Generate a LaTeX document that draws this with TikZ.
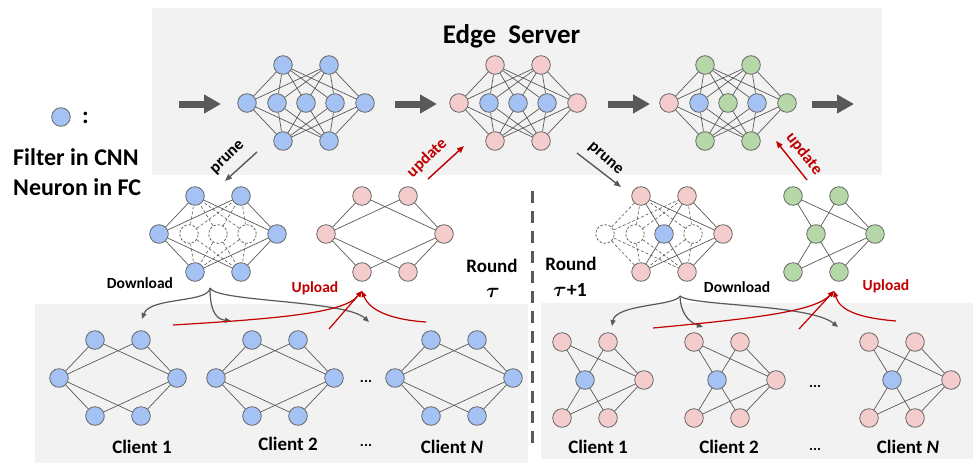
\documentclass[tikz,border=0pt]{standalone}
\usepackage{fontspec}
\setmainfont{Carlito}
\usetikzlibrary{arrows.meta,calc}

\definecolor{nblue}{HTML}{A4C2F4}
\definecolor{npink}{HTML}{F4CCCC}
\definecolor{ngreen}{HTML}{B6D7A8}
\definecolor{nborder}{HTML}{666666}
\definecolor{wire}{HTML}{595959}
\definecolor{panel}{HTML}{F2F2F2}
\definecolor{accent}{HTML}{C00000}

\tikzset{
  unit/.style={circle, draw=nborder, line width=0.8pt, minimum size=18.6pt, inner sep=0pt},
  bn/.style={unit, fill=nblue},
  pn/.style={unit, fill=npink},
  gn/.style={unit, fill=ngreen},
  xn/.style={unit, fill=white, dash pattern=on 2.4pt off 1.8pt},
  link/.style={draw=wire, line width=0.7pt},
  cut/.style={draw=wire, line width=0.6pt, dash pattern=on 3pt off 2pt},
  flow/.style={draw=wire, line width=7pt, -{Triangle[length=17pt,width=18pt]}},
  slim/.style={line width=1.4pt, -{Triangle[length=7pt,width=5.5pt]}},
  curl/.style={line width=1.2pt, -{Triangle[length=6pt,width=5pt]}},
  big/.style={font=\bfseries\fontsize{27}{30}\selectfont},
  keytext/.style={font=\bfseries\fontsize{24}{26}\selectfont, inner sep=0pt, anchor=base west},
  lab/.style={font=\bfseries\fontsize{19}{21}\selectfont, inner sep=0pt, anchor=base},
  taulab/.style={font=\bfseries\boldmath\fontsize{20}{22}\selectfont, inner sep=0pt, anchor=base},
  small/.style={font=\bfseries\fontsize{15.5}{17}\selectfont, inner sep=0pt, anchor=base},
  tilt/.style={font=\bfseries\fontsize{16.5}{18}\selectfont, inner sep=0pt},
  ellip/.style={font=\bfseries\fontsize{15}{16}\selectfont, inner sep=0pt},
}

% node placement helpers: #1 prefix, #2 centre, #3 list name/style
\newcommand\units[3]{\foreach \k/\s in {#3}{\node[\s] (#1\k) at ($#2+(o\k)$) {};}}
% every listed node of the middle row is wired to the four outer ones
\newcommand\links[3]{\foreach \a in {#2}{\foreach \b in {T1,T2,B1,B2}{\draw[#3] (#1\a) -- (#1\b);}}}

\begin{document}
\begin{tikzpicture}[x=1pt,y=-1pt]
\useasboundingbox (0,0) rectangle (973,463);

% panels
\fill[panel] (152,8) rectangle (882,175);
\fill[panel] (35,304) rectangle (528,463);
\fill[panel] (541,303) rectangle (973,459);

% relative offsets of the nine unit positions
\coordinate (oL) at (-59,0);
\coordinate (oT1) at (-23,-38);
\coordinate (oT2) at (23,-38);
\coordinate (oM1) at (-29,0);
\coordinate (oM2) at (0,0);
\coordinate (oM3) at (29,0);
\coordinate (oR) at (59,0);
\coordinate (oB1) at (-23,38);
\coordinate (oB2) at (23,38);

% ---------- edge server ----------
\node[big, anchor=base] (title) at (511.5,43) {Edge~~Server};

\units{a}{(306,103)}{L/bn,T1/bn,T2/bn,M1/bn,M2/bn,M3/bn,R/bn,B1/bn,B2/bn}
\links{a}{L,M1,M2,M3,R}{link}

\units{b}{(518,103)}{L/pn,T1/pn,T2/pn,M1/bn,M2/bn,M3/bn,R/pn,B1/pn,B2/pn}
\links{b}{L,M1,M2,M3,R}{link}

\units{c}{(728,103)}{L/pn,T1/gn,T2/gn,M1/bn,M2/gn,M3/bn,R/gn,B1/gn,B2/gn}
\links{c}{L,M1,M2,M3,R}{link}

\coordinate (f1a) at (179,104); \coordinate (f1b) at (221,104);
\coordinate (f2a) at (395,104); \coordinate (f2b) at (437,104);
\coordinate (f3a) at (608,104); \coordinate (f3b) at (650,104);
\coordinate (f4a) at (812,104); \coordinate (f4b) at (854,104);
\draw[flow] (f1a) -- (f1b);
\draw[flow] (f2a) -- (f2b);
\draw[flow] (f3a) -- (f3b);
\draw[flow] (f4a) -- (f4b);

% ---------- legend ----------
\node[bn] (keyunit) at (61,117) {};
\node[keytext] (colon) at (82,123) {:};
\node[keytext] (key1) at (13,165) {Filter in CNN};
\node[keytext] (key2) at (13,195) {Neuron in FC};

% ---------- round tau ----------
\units{p}{(218,234)}{L/bn,T1/bn,T2/bn,M1/xn,M2/xn,M3/xn,R/bn,B1/bn,B2/bn}
\links{p}{M1,M2,M3}{cut}
\links{p}{L,R}{link}

\units{u}{(385,234)}{L/pn,T1/pn,T2/pn,R/pn,B1/pn,B2/pn}
\links{u}{L,R}{link}

\coordinate (pr1a) at (257,152); \coordinate (pr1b) at (225,181);
\draw[slim, wire] (pr1a) -- (pr1b);
\node[tilt, rotate=44] (prune1) at (228,158) {prune};

\coordinate (up1a) at (428,179); \coordinate (up1b) at (464,146);
\draw[slim, accent] (up1a) -- (up1b);
\node[tilt, rotate=44, text=accent] (update1) at (427,158) {update};

\node[small] (down1) at (140,288) {Download};
\node[small, text=accent] (load1) at (315,292) {Upload};

\node[lab] (round1) at (492,272) {Round};
\node[taulab] (tau1) at (493,297) {$\tau$};

% clients, round tau
\units{d}{(118,378)}{L/bn,T1/bn,T2/bn,R/bn,B1/bn,B2/bn}
\links{d}{L,R}{link}
\units{e}{(275,378)}{L/bn,T1/bn,T2/bn,R/bn,B1/bn,B2/bn}
\links{e}{L,R}{link}
\units{f}{(454,378)}{L/bn,T1/bn,T2/bn,R/bn,B1/bn,B2/bn}
\links{f}{L,R}{link}

\node[lab] (cl1) at (142,453) {Client 1};
\node[lab] (cl2) at (288,450) {Client 2};
\node[lab] (cl3) at (452,453) {Client \textit{N}};
\node[ellip] (dots1) at (366,381) {...};
\node[ellip] (dots2) at (366,445) {...};

% download fan
\coordinate (dl1) at (210,288);
\coordinate (dl1a) at (142,319);
\coordinate (dl1b) at (231,321);
\coordinate (dl1c) at (369,322);
\draw[curl, wire] (dl1) .. controls (209,303) and (150,297) .. (dl1a);
\draw[curl, wire] (dl1) .. controls (210,307) and (214,319) .. (dl1b);
\draw[curl, wire] (dl1) .. controls (216,302) and (345,300) .. (dl1c);

% upload gather
\coordinate (ul1) at (362,291);
\coordinate (ul1a) at (173,325);
\coordinate (ul1b) at (329,329);
\coordinate (ul1c) at (426,322);
\draw[curl, accent] (ul1a) .. controls (290,318) and (345,312) .. (ul1);
\draw[curl, accent] (ul1b) -- (ul1);
\draw[curl, accent] (ul1c) .. controls (395,320) and (370,312) .. (ul1);

% separator between rounds
\draw[wire, line width=3pt, dash pattern=on 12pt off 8pt] (532,191) -- (532,447);

% ---------- round tau+1 ----------
\units{q}{(664,234)}{L/xn,T1/pn,T2/pn,M1/xn,M2/bn,M3/xn,R/pn,B1/pn,B2/pn}
\links{q}{L,M1,M3}{cut}
\links{q}{M2,R}{link}

\units{g}{(816,234)}{T1/gn,T2/gn,M2/gn,R/gn,B1/gn,B2/gn}
\links{g}{M2,R}{link}

\coordinate (pr2a) at (577,153); \coordinate (pr2b) at (621,187);
\draw[slim, wire] (pr2a) -- (pr2b);
\node[tilt, rotate=-41] (prune2) at (605,159) {prune};

\coordinate (up2a) at (807,180); \coordinate (up2b) at (776,141);
\draw[slim, accent] (up2a) -- (up2b);
\node[tilt, rotate=-52, text=accent] (update2) at (804,154) {update};

\node[small] (down2) at (737,292) {Download};
\node[small, text=accent] (load2) at (886,290) {Upload};

\node[lab] (round2) at (571,270) {Round};
\node[taulab] (tau2) at (570,296) {$\tau$+1};

% clients, round tau+1
\units{h}{(585,380)}{T1/pn,T2/pn,M2/bn,R/pn,B1/pn,B2/pn}
\links{h}{M2,R}{link}
\units{i}{(717,380)}{T1/pn,T2/pn,M2/bn,R/pn,B1/pn,B2/pn}
\links{i}{M2,R}{link}
\units{j}{(892,380)}{T1/pn,T2/pn,M2/bn,R/pn,B1/pn,B2/pn}
\links{j}{M2,R}{link}

\node[lab] (cl4) at (598,453) {Client 1};
\node[lab] (cl5) at (729,453) {Client 2};
\node[lab] (cl6) at (908,453) {Client \textit{N}};
\node[ellip] (dots3) at (815,386) {...};
\node[ellip] (dots4) at (815,449) {...};

\coordinate (dl2) at (680,296);
\coordinate (dl2a) at (612,326);
\coordinate (dl2b) at (703,327);
\coordinate (dl2c) at (838,327);
\draw[curl, wire] (dl2) .. controls (676,306) and (616,304) .. (dl2a);
\draw[curl, wire] (dl2) .. controls (680,311) and (688,322) .. (dl2b);
\draw[curl, wire] (dl2) .. controls (690,306) and (810,304) .. (dl2c);

\coordinate (ul2) at (834,291);
\coordinate (ul2a) at (653,328);
\coordinate (ul2b) at (799,329);
\coordinate (ul2c) at (896,321);
\draw[curl, accent] (ul2a) .. controls (760,318) and (815,311) .. (ul2);
\draw[curl, accent] (ul2b) -- (ul2);
\draw[curl, accent] (ul2c) .. controls (860,318) and (840,311) .. (ul2);

\end{tikzpicture}
\end{document}
